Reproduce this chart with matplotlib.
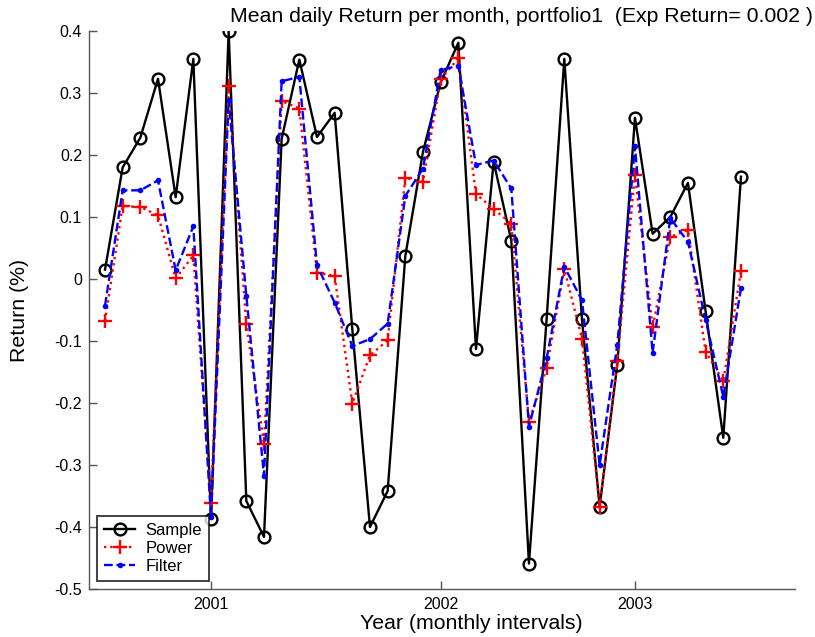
import matplotlib
matplotlib.use("Agg")
import matplotlib.pyplot as plt

plt.rcParams['font.family'] = ['Liberation Sans', 'DejaVu Sans']

# mean daily return per month (%), 37 months
months = list(range(37))
sample = [0.015, 0.180, 0.228, 0.323, 0.132, 0.355, -0.387, 0.400, -0.358, -0.416,
          0.226, 0.354, 0.229, 0.268, -0.081, -0.400, -0.342, 0.037, 0.205, 0.317,
          0.381, -0.113, 0.189, 0.062, -0.459, -0.064, 0.355, -0.065, -0.367, -0.138,
          0.260, 0.073, 0.100, 0.155, -0.052, -0.256, 0.165]
power = [-0.068, 0.118, 0.116, 0.103, 0.001, 0.038, -0.361, 0.312, -0.073, -0.266,
         0.287, 0.275, 0.010, 0.005, -0.201, -0.123, -0.099, 0.163, 0.157, 0.322,
         0.356, 0.137, 0.113, 0.089, -0.230, -0.144, 0.016, -0.096, -0.367, -0.132,
         0.168, -0.078, 0.068, 0.079, -0.117, -0.165, 0.013]
filt = [-0.043, 0.143, 0.143, 0.159, 0.014, 0.085, -0.384, 0.289, -0.027, -0.317,
        0.319, 0.326, 0.022, -0.038, -0.108, -0.097, -0.072, 0.134, 0.178, 0.337,
        0.344, 0.184, 0.191, 0.146, -0.238, -0.128, 0.020, -0.034, -0.300, -0.106,
        0.214, -0.119, 0.098, 0.060, -0.066, -0.190, -0.015]

year_ticks = [6, 19, 30]
year_labels = ['2001', '2002', '2003']
y_ticks = [-0.5, -0.4, -0.3, -0.2, -0.1, 0, 0.1, 0.2, 0.3, 0.4]
y_labels = ['-0.5', '-0.4', '-0.3', '-0.2', '-0.1', '0', '0.1', '0.2', '0.3', '0.4']

W, H = 815, 637
fig = plt.figure(figsize=(W / 100, H / 100), dpi=100)
ax = fig.add_axes([89 / W, 1 - 589 / H, (795 - 89) / W, (589 - 31) / H])

ax.plot(months, sample, color='black', linestyle='-', linewidth=1.7,
        marker='o', markersize=8.5, markerfacecolor='none', markeredgewidth=1.7,
        label='Sample')
ax.plot(months, power, color='red', linestyle=':', linewidth=1.7,
        marker='+', markersize=10, markeredgewidth=1.7, label='Power')
ax.plot(months, filt, color='blue', linestyle='--', linewidth=1.7,
        marker='.', markersize=6, label='Filter')

ax.set_xlim(-0.906, 39.06)
ax.set_ylim(-0.5, 0.4)
ax.set_xticks(year_ticks)
ax.set_xticklabels(year_labels)
ax.set_yticks(y_ticks)
ax.set_yticklabels(y_labels)

for side in ('top', 'right'):
    ax.spines[side].set_visible(False)
for side in ('left', 'bottom'):
    ax.spines[side].set_color('#555555')
    ax.spines[side].set_linewidth(1.0)
ax.tick_params(direction='in', length=6, width=1, color='#555555',
               labelsize=11.5, labelcolor='black')
ax.tick_params(axis='y', pad=5)
ax.tick_params(axis='x', pad=6)

ax.set_xlabel('Year (monthly intervals)', fontsize=15.3)
ax.xaxis.set_label_coords((471 - 89) / (795 - 89), -(614 - 589) / 558)
ax.set_ylabel('Return (%)', fontsize=15.3)
ax.yaxis.set_label_coords(-(89 - 29) / 706, 0.5)

fig.text(230 / W, 1 - 17 / H,
         'Mean daily Return per month, portfolio1  (Exp Return= 0.002 )',
         fontsize=15.3, ha='left', va='center')

leg = ax.legend(loc='lower left', bbox_to_anchor=(8 / 706, 8 / 558),
                fontsize=12, frameon=True, fancybox=False, borderaxespad=0,
                handlelength=1.9, handletextpad=0.6, labelspacing=0.2,
                borderpad=0.4)
leg.get_frame().set_edgecolor('black')
leg.get_frame().set_linewidth(1.3)

fig.savefig('out.png', dpi=100)
